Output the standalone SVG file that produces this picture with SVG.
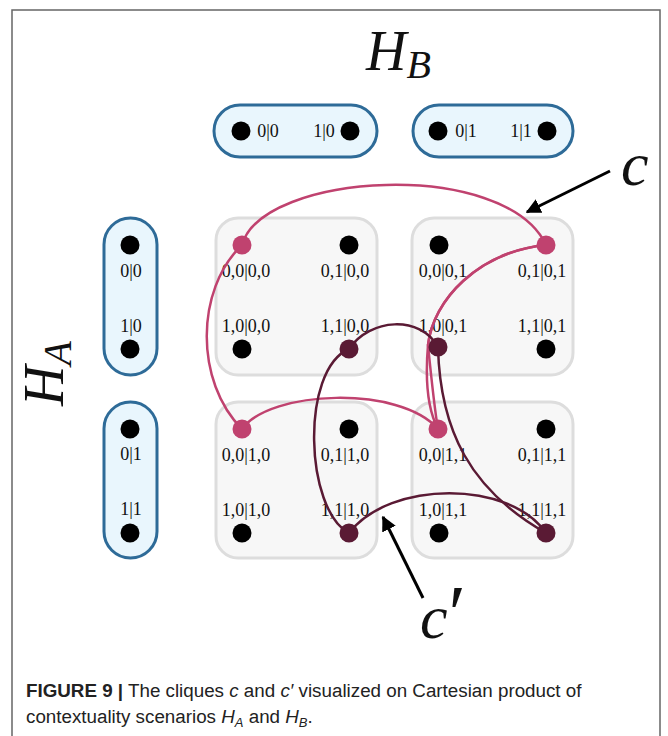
<svg xmlns="http://www.w3.org/2000/svg" width="668" height="736" viewBox="0 0 668 736">
<defs>
<style>
.pill{fill:#e9f6fd;stroke:#2e6b98;stroke-width:3}
.box{fill:#f7f7f7;stroke:#dddddd;stroke-width:3}
.dot{fill:#000}
.lbl{font-family:"Liberation Serif","DejaVu Serif",serif;font-size:18px;fill:#111;text-anchor:middle}
.pc{fill:none;stroke:#c0426f;stroke-width:2.5}
.dc{fill:none;stroke:#5a1a34;stroke-width:2.5}
.pd{fill:#c0426f}
.dd{fill:#5a1a34}
.math{font-family:"Liberation Serif","DejaVu Serif",serif;font-style:italic;fill:#111}
.cap{font-family:"Liberation Sans","Arial",sans-serif;font-size:18.8px;fill:#222}
.arr{stroke:#000;stroke-width:3;fill:none}
</style>
<marker id="ah" viewBox="0 0 10 10" refX="9" refY="5" markerWidth="5" markerHeight="5" orient="auto" markerUnits="strokeWidth">
<path d="M0,0 L10,5 L0,10 z" fill="#000"/>
</marker>
</defs>
<rect x="0" y="0" width="668" height="736" fill="#fff"/>
<path d="M12,740 V10 H660 V740" fill="none" stroke="#666" stroke-width="1.5"/>

<text class="math" x="366" y="70" font-size="56">H<tspan font-size="40" dy="8">B</tspan></text>
<text class="math" transform="translate(63,406) rotate(-90)" font-size="56">H<tspan font-size="40" dy="8">A</tspan></text>

<g id="hb0">
<rect class="pill" x="214" y="105" width="163" height="52" rx="26"/>
<circle class="dot" cx="241" cy="131" r="9.5"/>
<circle class="dot" cx="350" cy="131" r="9.5"/>
<text class="lbl" x="268" y="137">0|0</text>
<text class="lbl" x="324" y="137">1|0</text>
</g>
<g id="hb1">
<rect class="pill" x="413" y="105" width="160" height="52" rx="26"/>
<circle class="dot" cx="438" cy="131" r="9.5"/>
<circle class="dot" cx="547" cy="131" r="9.5"/>
<text class="lbl" x="466" y="137">0|1</text>
<text class="lbl" x="521" y="137">1|1</text>
</g>
<g id="ha0">
<rect class="pill" x="104" y="218" width="53" height="157" rx="26.5"/>
<circle class="dot" cx="130" cy="245" r="9.5"/>
<circle class="dot" cx="130" cy="349" r="9.5"/>
<text class="lbl" x="131" y="277">0|0</text>
<text class="lbl" x="131" y="332">1|0</text>
</g>
<g id="ha1">
<rect class="pill" x="104" y="402" width="53" height="156" rx="26.5"/>
<circle class="dot" cx="130" cy="429" r="9.5"/>
<circle class="dot" cx="130" cy="533" r="9.5"/>
<text class="lbl" x="131" y="460">0|1</text>
<text class="lbl" x="131" y="515">1|1</text>
</g>

<g id="box00">
<rect class="box" x="216" y="218" width="161" height="157" rx="22"/>
<circle class="dot" cx="349" cy="245" r="9.5"/>
<circle class="dot" cx="242" cy="349" r="9.5"/>
<text class="lbl" x="246" y="277">0,0|0,0</text>
<text class="lbl" x="345" y="277">0,1|0,0</text>
<text class="lbl" x="246" y="332">1,0|0,0</text>
<text class="lbl" x="345" y="332">1,1|0,0</text>
</g>
<g id="box01">
<rect class="box" x="412" y="218" width="161" height="157" rx="22"/>
<circle class="dot" cx="439" cy="245" r="9.5"/>
<circle class="dot" cx="546" cy="349" r="9.5"/>
<text class="lbl" x="443" y="277">0,0|0,1</text>
<text class="lbl" x="542" y="277">0,1|0,1</text>
<text class="lbl" x="443" y="332">1,0|0,1</text>
<text class="lbl" x="542" y="332">1,1|0,1</text>
</g>
<g id="box10">
<rect class="box" x="216" y="402" width="161" height="156" rx="22"/>
<circle class="dot" cx="349" cy="429" r="9.5"/>
<circle class="dot" cx="242" cy="533" r="9.5"/>
<text class="lbl" x="246" y="461">0,0|1,0</text>
<text class="lbl" x="345" y="461">0,1|1,0</text>
<text class="lbl" x="246" y="516">1,0|1,0</text>
<text class="lbl" x="345" y="516">1,1|1,0</text>
</g>
<g id="box11">
<rect class="box" x="412" y="402" width="161" height="156" rx="22"/>
<circle class="dot" cx="546" cy="429" r="9.5"/>
<circle class="dot" cx="439" cy="533" r="9.5"/>
<text class="lbl" x="443" y="461">0,0|1,1</text>
<text class="lbl" x="542" y="461">0,1|1,1</text>
<text class="lbl" x="443" y="516">1,0|1,1</text>
<text class="lbl" x="542" y="516">1,1|1,1</text>
</g>

<g id="connectors">
<path class="pc" d="M242,245 C262,172 505,158 546,245"/>
<path class="pc" d="M242,245 C195,290 195,382 242,429"/>
<path class="pc" d="M242,429 C270,390 400,385 438,429"/>
<path class="pc" d="M546,245 C478,252 433,300 428,345 C425,380 428,410 438,429"/>
<path class="pc" d="M546,245 C478,252 433,300 428,345 C432,385 435,412 438,429"/>
<path class="dc" d="M349,349 C370,318 420,315 438,347"/>
<path class="dc" d="M349,349 C300,370 305,510 349,533"/>
<path class="dc" d="M349,533 C390,480 510,480 546,533"/>
<path class="dc" d="M438,347 C440,430 470,490 546,533"/>
<path class="arr" d="M610,171 L527,212" marker-end="url(#ah)"/>
<path class="arr" d="M423,598 L383,517" marker-end="url(#ah)"/>
</g>

<g id="clique-c">
<circle class="pd" cx="242" cy="245" r="9.5"/>
<circle class="pd" cx="546" cy="245" r="9.5"/>
<circle class="pd" cx="242" cy="429" r="9.5"/>
<circle class="pd" cx="438" cy="429" r="9.5"/>
</g>
<g id="clique-c2">
<circle class="dd" cx="349" cy="349" r="9.5"/>
<circle class="dd" cx="438" cy="347" r="9.5"/>
<circle class="dd" cx="349" cy="533" r="9.5"/>
<circle class="dd" cx="546" cy="533" r="9.5"/>
</g>

<text class="math" x="621" y="185" font-size="62">c</text>
<text class="math" x="420" y="638" font-size="62">c<tspan font-size="80" dx="1" dy="3" font-style="normal">′</tspan></text>

<text class="cap" x="26" y="697"><tspan font-weight="bold">FIGURE 9 |</tspan> The cliques <tspan font-style="italic">c</tspan> and <tspan font-style="italic">c′</tspan> visualized on Cartesian product of</text>
<text class="cap" x="26" y="723">contextuality scenarios <tspan font-style="italic">H</tspan><tspan font-style="italic" font-size="13" dy="4">A</tspan><tspan dy="-4"> and </tspan><tspan font-style="italic">H</tspan><tspan font-style="italic" font-size="13" dy="4">B</tspan><tspan dy="-4">.</tspan></text>
</svg>
